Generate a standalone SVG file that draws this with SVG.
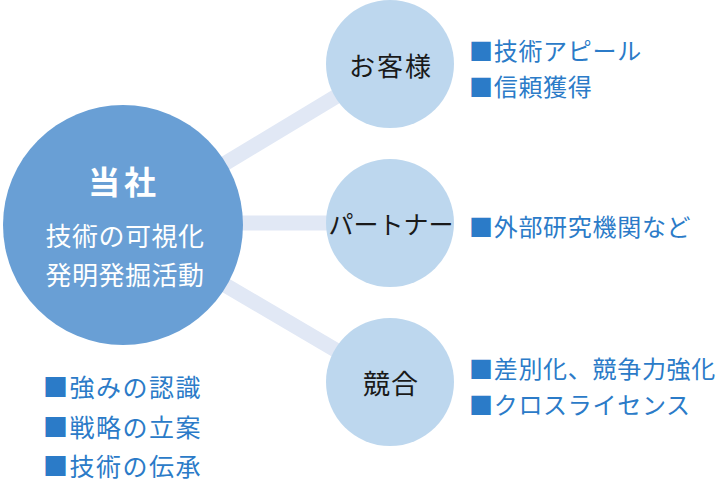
<svg xmlns="http://www.w3.org/2000/svg" width="720" height="490" viewBox="0 0 720 490">
<style>
text{font-family:"Noto Sans CJK JP","Noto Sans",sans-serif;}
.conn{stroke:#e1e8f5;stroke-width:15;fill:none;}
.sub{fill:#bdd7ee;}
.lbl{fill:#1a1a1a;text-anchor:middle;}
.main{fill:#699fd5;}
.wt{fill:#ffffff;text-anchor:middle;}
.li{fill:#2b7bc8;font-size:24px;letter-spacing:0.7px;}
.ll{fill:#2b7bc8;font-size:25px;letter-spacing:1.5px;}
</style>
<rect width="720" height="490" fill="#ffffff"/>
<g id="connectors">
<line class="conn" x1="123" y1="225" x2="390" y2="64"/>
<line class="conn" x1="123" y1="223" x2="390" y2="223"/>
<line class="conn" x1="123" y1="225" x2="390" y2="382"/>
</g>
<g id="node-company">
<circle class="main" cx="123" cy="225" r="120"/>
<text class="wt" x="124" y="194" font-size="32" font-weight="bold" letter-spacing="4">当社</text>
<text class="wt" x="125" y="246" font-size="26" letter-spacing="0.5">技術の可視化</text>
<text class="wt" x="125" y="285" font-size="26" letter-spacing="0.5">発明発掘活動</text>
</g>
<g id="node-customer">
<circle class="sub" cx="390" cy="64" r="64"/>
<text class="lbl" x="391" y="76" font-size="26" letter-spacing="2">お客様</text>
</g>
<g id="node-partner">
<circle class="sub" cx="390" cy="223" r="64"/>
<text class="lbl" x="391" y="234" font-size="25">パートナー</text>
</g>
<g id="node-competitor">
<circle class="sub" cx="390" cy="382" r="64"/>
<text class="lbl" x="391" y="394" font-size="27" letter-spacing="1">競合</text>
</g>
<g id="lists">
<text class="li" x="469" y="60">■技術アピール</text>
<text class="li" x="469" y="96">■信頼獲得</text>
<text class="li" x="469" y="236">■外部研究機関など</text>
<text class="li" x="469" y="378">■差別化、競争力強化</text>
<text class="li" x="469" y="414">■クロスライセンス</text>
<text class="ll" x="43" y="397">■強みの認識</text>
<text class="ll" x="43" y="437">■戦略の立案</text>
<text class="ll" x="43" y="476">■技術の伝承</text>
</g>
</svg>
